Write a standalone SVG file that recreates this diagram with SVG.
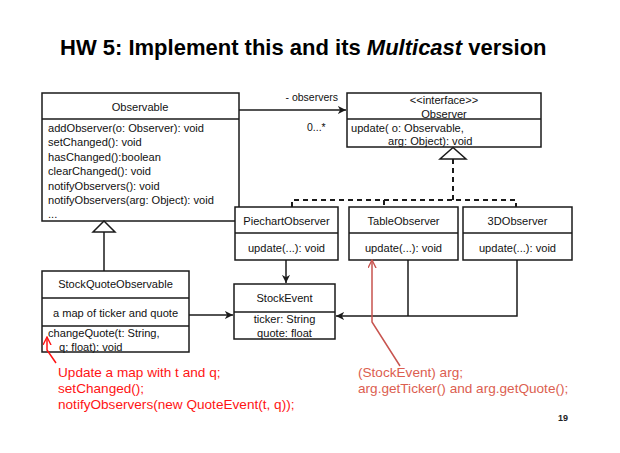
<svg xmlns="http://www.w3.org/2000/svg" width="620" height="453" viewBox="0 0 620 453">
<defs>
<style>
.box{fill:#fff;stroke:#1a1a1a;stroke-width:1.5}
.div{stroke:#1a1a1a;stroke-width:1.5}
.t{font-family:"Liberation Sans",Arial,sans-serif;font-size:11.1px;fill:#111}
.c{text-anchor:middle}
.ln{fill:none;stroke:#1a1a1a;stroke-width:1.5}
.dash{fill:none;stroke:#1a1a1a;stroke-width:2;stroke-dasharray:5,4}
.red{font-family:"Liberation Sans",Arial,sans-serif;font-size:13.6px;fill:#ff1414}
.pink{font-family:"Liberation Sans",Arial,sans-serif;font-size:13.6px;fill:#dc5e50}
</style>
<marker id="arr" viewBox="0 0 10 10" refX="9" refY="5" markerWidth="9" markerHeight="9" markerUnits="userSpaceOnUse" orient="auto">
<path d="M0,0.5 L9,5 L0,9.5 L2.5,5 z" fill="#1a1a1a"/>
</marker>
<marker id="arrRed" viewBox="0 0 10 10" refX="9" refY="5" markerWidth="9" markerHeight="9" markerUnits="userSpaceOnUse" orient="auto">
<path d="M0,0.5 L9,5 L0,9.5" fill="none" stroke="#ff1414" stroke-width="1.5"/>
</marker>
<marker id="arrPink" viewBox="0 0 10 10" refX="9" refY="5" markerWidth="9" markerHeight="9" markerUnits="userSpaceOnUse" orient="auto">
<path d="M0,0.5 L9,5 L0,9.5" fill="none" stroke="#c8544f" stroke-width="1.5"/>
</marker>
</defs>
<rect width="620" height="453" fill="#fff"/>

<text x="60" y="55" font-family="'Liberation Sans',Arial,sans-serif" font-size="22" font-weight="bold" fill="#000">HW 5: Implement this and its <tspan font-style="italic">Multicast</tspan> version</text>

<g id="Observable">
<rect class="box" x="42" y="93" width="197" height="128"/>
<line class="div" x1="42" y1="119" x2="239" y2="119"/>
<text class="t c" x="140" y="111">Observable</text>
<text class="t" x="48" y="131.5">addObserver(o: Observer): void</text>
<text class="t" x="48" y="146">setChanged(): void</text>
<text class="t" x="48" y="160.5">hasChanged():boolean</text>
<text class="t" x="48" y="175">clearChanged(): void</text>
<text class="t" x="48" y="189.5">notifyObservers(): void</text>
<text class="t" x="48" y="204">notifyObservers(arg: Object): void</text>
<text class="t" x="48" y="218">...</text>
</g>

<g id="Observer">
<rect class="box" x="347" y="93" width="194" height="54"/>
<line class="div" x1="347" y1="119" x2="541" y2="119"/>
<text class="t c" x="444" y="104">&lt;&lt;interface&gt;&gt;</text>
<text class="t c" x="444" y="118">Observer</text>
<text class="t" x="351" y="131.5">update( o: Observable,</text>
<text class="t" x="388" y="145">arg: Object): void</text>
</g>

<g id="PiechartObserver">
<rect class="box" x="235" y="207" width="103" height="53"/>
<line class="div" x1="235" y1="233" x2="338" y2="233"/>
<text class="t c" x="286.5" y="225">PiechartObserver</text>
<text class="t c" x="286.5" y="252">update(...): void</text>
</g>

<g id="TableObserver">
<rect class="box" x="349" y="207" width="109" height="53"/>
<line class="div" x1="349" y1="233" x2="458" y2="233"/>
<text class="t c" x="403.5" y="225">TableObserver</text>
<text class="t c" x="403.5" y="252">update(...): void</text>
</g>

<g id="3DObserver">
<rect class="box" x="463" y="207" width="109" height="53"/>
<line class="div" x1="463" y1="233" x2="572" y2="233"/>
<text class="t c" x="517.5" y="225">3DObserver</text>
<text class="t c" x="517.5" y="252">update(...): void</text>
</g>

<g id="StockQuoteObservable">
<rect class="box" x="42" y="271" width="147" height="81"/>
<line class="div" x1="42" y1="298" x2="189" y2="298"/>
<line class="div" x1="42" y1="326" x2="189" y2="326"/>
<text class="t c" x="115.5" y="288">StockQuoteObservable</text>
<text class="t c" x="115.5" y="317">a map of ticker and quote</text>
<text class="t" x="48" y="337">changeQuote(t: String,</text>
<text class="t" x="59" y="350.5">q: float): void</text>
</g>

<g id="StockEvent">
<rect class="box" x="234" y="284" width="101" height="55"/>
<line class="div" x1="234" y1="312" x2="335" y2="312"/>
<text class="t c" x="284.5" y="302">StockEvent</text>
<text class="t c" x="284.5" y="323">ticker: String</text>
<text class="t c" x="284.5" y="337">quote: float</text>
</g>

<g id="connectors">
<line class="ln" x1="239" y1="110" x2="346" y2="110" marker-end="url(#arr)"/>
<text x="338" y="101" text-anchor="end" font-family="'Liberation Sans',Arial,sans-serif" font-size="10.5" fill="#111">- observers</text>
<text x="307" y="131" font-family="'Liberation Sans',Arial,sans-serif" font-size="10.5" fill="#111">0...*</text>
<polyline class="dash" points="292,207 292,200 516,200 516,207"/>
<line class="dash" x1="384" y1="200" x2="384" y2="207"/>
<line class="dash" x1="453" y1="159" x2="453" y2="200"/>
<polygon points="453,147.5 440,159 466,159" fill="#fff" stroke="#1a1a1a" stroke-width="1.5"/>
<line class="ln" x1="104" y1="232" x2="104" y2="271"/>
<polygon points="104,221 93,232 115,232" fill="#fff" stroke="#1a1a1a" stroke-width="1.5"/>
<line class="ln" x1="189" y1="315" x2="233" y2="315" marker-end="url(#arr)"/>
<line class="ln" x1="286" y1="260" x2="286" y2="283" marker-end="url(#arr)"/>
<polyline class="ln" points="408,260 408,316"/>
<polyline class="ln" points="517,260 517,316 336,316" marker-end="url(#arr)"/>
<polyline points="56,363 47,350 47,337" fill="none" stroke="#ff1414" stroke-width="1.5" marker-end="url(#arrRed)"/>
<polyline points="400,366 372,322 372,260" fill="none" stroke="#c8544f" stroke-width="1.5" marker-end="url(#arrPink)"/>
</g>

<g id="notes">
<text class="red" x="58" y="377">Update a map with t and q;</text>
<text class="red" x="58" y="393">setChanged();</text>
<text class="red" x="58" y="408.5">notifyObservers(new QuoteEvent(t, q));</text>
<text class="pink" x="358" y="377">(StockEvent) arg;</text>
<text class="pink" x="358" y="393">arg.getTicker() and arg.getQuote();</text>
<text x="568" y="421" text-anchor="end" font-family="'Liberation Sans',Arial,sans-serif" font-size="9" font-weight="bold" fill="#222">19</text>
</g>
</svg>
